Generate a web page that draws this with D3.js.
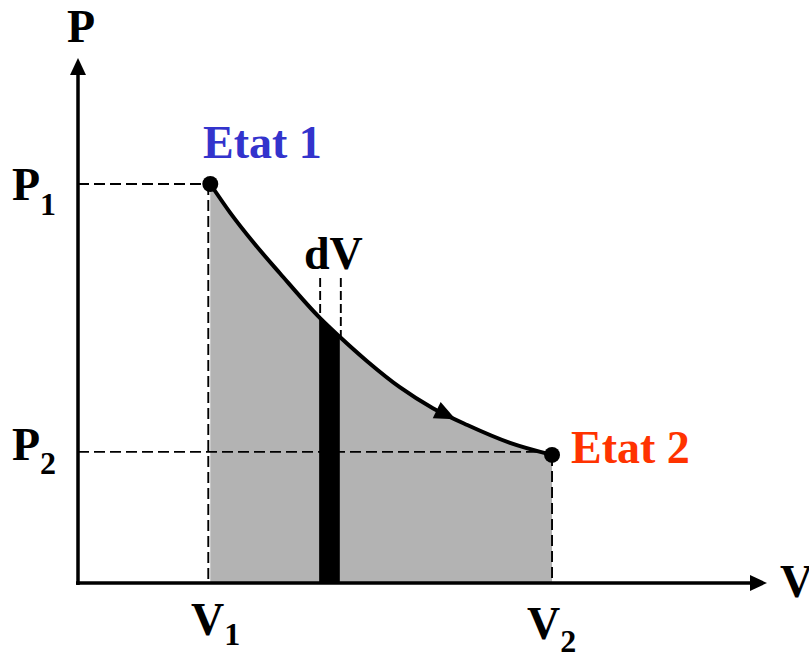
<!DOCTYPE html>
<html>
<head>
<meta charset="utf-8">
<script src="https://cdn.jsdelivr.net/npm/d3@7"></script>
<style>
  html, body { margin: 0; padding: 0; background: #fff; }
  svg { display: block; }
  text { font-family: "Liberation Serif", "Times New Roman", serif; font-weight: bold; }
</style>
</head>
<body>
<svg id="chart" width="809" height="656"></svg>
<script>
// ---- data (arbitrary units) ----
const curveV = [19.2, 22.1, 25.5, 29.3, 35.1, 37.9, 42.0, 46.7, 51.5, 56.5, 62.7, 68.8];
const curveP = [76.0, 70.5, 64.8, 59.0, 50.5, 47.0, 42.2, 37.3, 33.3, 30.1, 26.7, 24.4];
const stateV = [19.2, 68.8];
const stateP = [76.0, 24.4];
const stateLabels = ["Etat 1", "Etat 2"];
const stateColors = ["#3333CC", "#FF3300"];
const dVRange = [35.0, 38.0];
const tickP = [["P", "1"], ["P", "2"]];
const tickV = [["V", "1"], ["V", "2"]];
const axisNames = ["P", "V"];
const arrowAt = 54.8; // V position of the direction arrow on the curve

// ---- scales ----
const svg = d3.select("#chart");
const x = d3.scaleLinear().domain([0, 100]).range([78, 767]);
const y = d3.scaleLinear().domain([0, 100]).range([583, 58]);

const pts = curveV.map((v, i) => [v, curveP[i]]);

// gray area under the curve
const area = d3.area().x(d => x(d[0])).y0(y(0)).y1(d => y(d[1])).curve(d3.curveMonotoneX);
svg.append("path").attr("d", area(pts)).attr("fill", "#b3b3b3");

// black dV strip: clip area to dV range
svg.append("clipPath").attr("id", "dvclip").append("rect")
  .attr("x", x(dVRange[0])).attr("y", 0)
  .attr("width", x(dVRange[1]) - x(dVRange[0])).attr("height", 656);
svg.append("path").attr("d", area(pts)).attr("fill", "#000").attr("clip-path", "url(#dvclip)");

// dashed guide lines
const dash = "11,5", dw = 1.9;
svg.append("line").attr("x1", x(0)).attr("x2", x(stateV[0])).attr("y1", y(stateP[0])).attr("y2", y(stateP[0]))
  .attr("stroke", "#000").attr("stroke-width", dw).attr("stroke-dasharray", dash);
svg.append("line").attr("x1", x(0)).attr("x2", x(stateV[1])).attr("y1", y(stateP[1]) - 3).attr("y2", y(stateP[1]) - 3)
  .attr("stroke", "#000").attr("stroke-width", dw).attr("stroke-dasharray", dash);
svg.append("line").attr("x1", x(stateV[0]) - 2).attr("x2", x(stateV[0]) - 2).attr("y1", y(stateP[0])).attr("y2", y(0))
  .attr("stroke", "#000").attr("stroke-width", dw).attr("stroke-dasharray", dash);
svg.append("line").attr("x1", x(stateV[1])).attr("x2", x(stateV[1])).attr("y1", y(stateP[1])).attr("y2", y(0))
  .attr("stroke", "#000").attr("stroke-width", dw).attr("stroke-dasharray", dash);

// dV dashed verticals
const interp = v => {
  for (let i = 1; i < curveV.length; i++) {
    if (v <= curveV[i]) {
      const t = (v - curveV[i - 1]) / (curveV[i] - curveV[i - 1]);
      return curveP[i - 1] + t * (curveP[i] - curveP[i - 1]);
    }
  }
  return curveP[curveP.length - 1];
};
dVRange.forEach(v => {
  svg.append("line").attr("x1", x(v) + 1).attr("x2", x(v) + 1)
    .attr("y1", 278).attr("y2", y(interp(v)))
    .attr("stroke", "#000").attr("stroke-width", dw).attr("stroke-dasharray", "9,4");
});

// curve
const line = d3.line().x(d => x(d[0])).y(d => y(d[1])).curve(d3.curveMonotoneX);
svg.append("path").attr("d", line(pts)).attr("fill", "none").attr("stroke", "#000").attr("stroke-width", 4);

// direction arrow on the curve
{
  const p1 = [x(arrowAt), y(interp(arrowAt))];
  const p0 = [x(arrowAt - 2), y(interp(arrowAt - 2))];
  const ang = Math.atan2(p1[1] - p0[1], p1[0] - p0[0]) * 180 / Math.PI;
  svg.append("path").attr("d", "M0,0 L-21,-9 L-21,9 Z")
    .attr("transform", `translate(${p1[0]},${p1[1]}) rotate(${ang})`).attr("fill", "#000");
}

// axes
svg.append("line").attr("x1", x(0)).attr("x2", x(0)).attr("y1", y(0) + 2).attr("y2", y(100) + 12)
  .attr("stroke", "#000").attr("stroke-width", 3.5);
svg.append("line").attr("x1", x(0) - 2).attr("x2", x(100) - 12).attr("y1", y(0)).attr("y2", y(0))
  .attr("stroke", "#000").attr("stroke-width", 3.5);
svg.append("path").attr("d", `M${x(0)},${y(100)} L${x(0) - 8},${y(100) + 17} L${x(0) + 8},${y(100) + 17} Z`).attr("fill", "#000");
svg.append("path").attr("d", `M${x(100)},${y(0)} L${x(100) - 17},${y(0) - 8} L${x(100) - 17},${y(0) + 8} Z`).attr("fill", "#000");

// state points
svg.selectAll("circle.state").data(stateV).enter().append("circle")
  .attr("class", "state").attr("cx", d => x(d)).attr("cy", (d, i) => y(stateP[i])).attr("r", 8).attr("fill", "#000");

// labels
const big = 46, small = 32;
function sub(xp, yp, main, s, dx, dy) {
  const t = svg.append("text").attr("x", xp).attr("y", yp).attr("font-size", big).attr("fill", "#000");
  t.append("tspan").text(main);
  t.append("tspan").attr("font-size", small).attr("dx", dx).attr("dy", dy).text(s);
}
sub(12, y(stateP[0]) + 16, tickP[0][0], tickP[0][1], 0, 15);
sub(12, y(stateP[1]) + 5, tickP[1][0], tickP[1][1], 0, 14);
sub(191, 635, tickV[0][0], tickV[0][1], 0, 10);
sub(527, 639, tickV[1][0], tickV[1][1], 0, 13);

svg.append("text").attr("x", 67).attr("y", 42).attr("font-size", big).text(axisNames[0]);
svg.append("text").attr("x", 780).attr("y", 597).attr("font-size", big).text(axisNames[1]);
svg.append("text").attr("x", 304).attr("y", 269).attr("font-size", big).text("dV");

svg.append("text").attr("x", 203).attr("y", 158).attr("font-size", big).attr("fill", stateColors[0]).text(stateLabels[0]);
svg.append("text").attr("x", 571).attr("y", 463).attr("font-size", big).attr("fill", stateColors[1]).text(stateLabels[1]);
</script>
</body>
</html>
